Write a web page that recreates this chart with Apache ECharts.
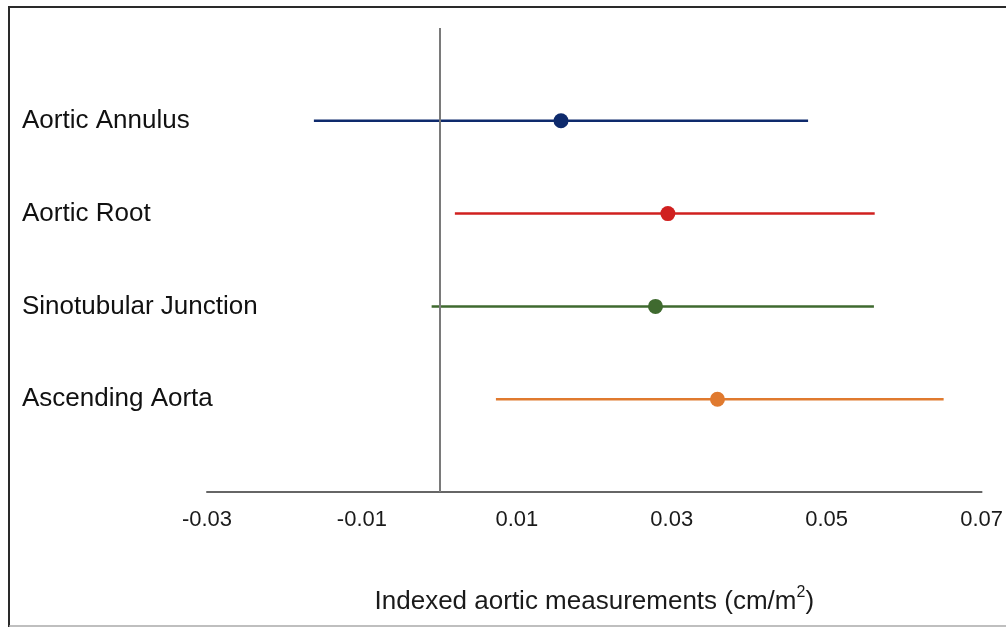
<!DOCTYPE html>
<html>
<head>
<meta charset="utf-8">
<script src="https://cdn.jsdelivr.net/npm/echarts@6/dist/echarts.min.js"></script>
<style>
html,body{margin:0;padding:0;background:#fff;}
#chart{width:1006px;height:627px;}
</style>
</head>
<body>
<div id="chart"></div>
<script>
// ---- data ----
var categories = ['Aortic Annulus', 'Aortic Root', 'Sinotubular Junction', 'Ascending Aorta'];
var estimates  = [0.0157, 0.0295, 0.0279, 0.0359];
var lowerCI    = [-0.0162, 0.0020, -0.0010, 0.0073];
var upperCI    = [0.0476, 0.0562, 0.0561, 0.0651];
var xTickLabels = ['-0.03', '-0.01', '0.01', '0.03', '0.05', '0.07'];
var colors = ['#0e2a6c', '#d0201f', '#3f6a2f', '#e07a2f'];
var xTitleMain = 'Indexed aortic measurements (cm/m';
var xTitleSup = '2';

var n = categories.length;
function rowY(i) { return n - i; }

var series = [];
categories.forEach(function (c, i) {
  series.push({
    type: 'line',
    name: c,
    data: [[lowerCI[i], rowY(i)], [upperCI[i], rowY(i)]],
    symbol: 'none',
    lineStyle: { color: colors[i], width: 2.5 },
    silent: true,
    z: 2
  });
});
series.push({
  type: 'scatter',
  data: estimates.map(function (v, i) {
    return { value: [v, rowY(i)], itemStyle: { color: colors[i], opacity: 1 } };
  }),
  symbol: 'circle',
  symbolSize: 15,
  itemStyle: { opacity: 1 },
  silent: true,
  z: 3
});
series.push({
  type: 'line',
  data: [],
  markLine: {
    silent: true,
    symbol: ['none', 'none'],
    label: { show: false },
    lineStyle: { color: '#7a7a7a', width: 2, type: 'solid' },
    data: [{ xAxis: 0 }]
  },
  z: 1
});

var FONT = 'Liberation Sans, Arial, sans-serif';
var chart = echarts.init(document.getElementById('chart'), null, { renderer: 'canvas' });
chart.setOption({
  animation: false,
  backgroundColor: '#ffffff',
  grid: { left: 207, right: 23, top: 28, bottom: 135, containLabel: false },
  xAxis: {
    type: 'value',
    min: -0.03,
    max: 0.07,
    interval: 0.01,
    axisLine: { show: true, onZero: false, lineStyle: { color: '#666', width: 2 } },
    axisTick: { show: false },
    splitLine: { show: false },
    axisLabel: {
      margin: 17,
      fontFamily: FONT,
      fontSize: 22,
      color: '#1a1a1a',
      formatter: function (v) {
        var s = v.toFixed(2);
        return xTickLabels.indexOf(s) >= 0 ? s : '';
      }
    },
    name: '{a|' + xTitleMain + '}{s|' + xTitleSup + '}{a|)}',
    nameLocation: 'middle',
    nameGap: 93,
    nameTextStyle: {
      fontFamily: FONT, fontSize: 26, color: '#1a1a1a',
      rich: {
        a: { fontFamily: FONT, fontSize: 26, color: '#1a1a1a', verticalAlign: 'bottom', lineHeight: 30 },
        s: { fontFamily: FONT, fontSize: 16, color: '#1a1a1a', verticalAlign: 'top', lineHeight: 30, padding: [0, 0, 10, 0] }
      }
    }
  },
  yAxis: {
    type: 'value',
    min: 0,
    max: n + 1,
    interval: 1,
    axisLine: { show: false },
    axisTick: { show: false },
    splitLine: { show: false },
    axisLabel: {
      align: 'left',
      margin: 185,
      fontFamily: FONT,
      fontSize: 26,
      color: '#111',
      padding: [4, 0, 0, 0],
      formatter: function (v) {
        var i = n - Math.round(v);
        return (i >= 0 && i < n) ? categories[i] : '';
      }
    }
  },
  graphic: [
    { type: 'line', shape: { x1: 8, y1: 7, x2: 1006, y2: 7 }, style: { stroke: '#2a2a2a', lineWidth: 2 } },
    { type: 'line', shape: { x1: 9, y1: 6, x2: 9, y2: 627 }, style: { stroke: '#2a2a2a', lineWidth: 2 } },
    { type: 'line', shape: { x1: 9, y1: 626, x2: 1006, y2: 626 }, style: { stroke: '#aaaaaa', lineWidth: 1.5 } }
  ],
  series: series
});
</script>
</body>
</html>
